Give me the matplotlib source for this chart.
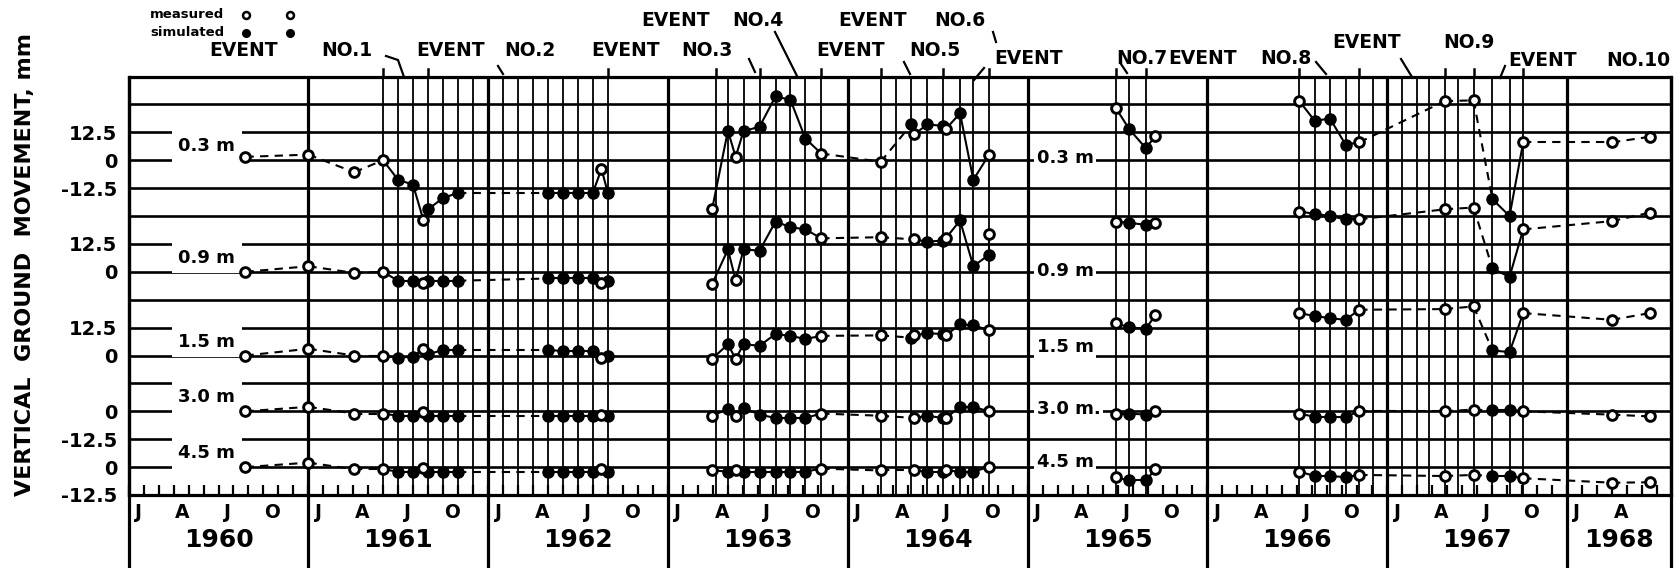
import matplotlib
matplotlib.use("Agg")
import matplotlib.pyplot as plt
import numpy as np
from matplotlib.lines import Line2D

plt.rcParams['font.family'] = ['DejaVu Sans']
plt.rcParams['font.weight'] = 'bold'

nan = np.nan

# depth series, each drawn around its own zero on a shared mm axis
depth_names = ['0.3 m', '0.9 m', '1.5 m', '3.0 m', '4.5 m']
names_1965 = ['0.3 m', '0.9 m', '1.5 m', '3.0 m.', '4.5 m']
baselines = [150.0, 100.0, 62.5, 37.5, 12.5]
tick_rel = [[12.5, 0, -12.5], [12.5, 0], [12.5, 0], [0, -12.5], [0, -12.5]]

# measured (open circles)
meas_dates = [1960.65, 1961.0, 1961.255, 1961.415, 1961.64, 1962.63,
              1963.245, 1963.376, 1963.852,
              1964.183, 1964.37, 1964.545, 1964.783,
              1965.489, 1965.71,
              1966.511, 1966.844, 1967.32, 1967.48, 1967.756,
              1968.25, 1968.46]
meas_03 = [1.5, 2.5, -5.4, 0.0, -27.0, -3.9, -22.0, 1.5, 3.0, -0.7, 11.7, 14.0, 2.2,
           23.6, 10.7, 26.5, 8.0, 26.5, 26.8, 8.0, 8.0, 10.5]
meas_09 = [0.0, 2.5, -0.5, 0.0, -5.0, -5.0, -5.5, -3.7, 15.0, 15.5, 14.5, 15.0, 17.0,
           22.5, 22.0, 27.0, 23.5, 28.0, 28.8, 19.0, 22.7, 26.5]
meas_15 = [0.0, 3.0, 0.0, 0.0, 3.0, -1.0, -1.5, -1.5, 8.8, 9.0, 9.0, 9.0, 11.4,
           14.5, 18.0, 19.0, 20.5, 20.8, 22.0, 19.0, 16.0, 19.0]
meas_30 = [0.0, 2.0, -1.0, -1.0, -0.5, -1.5, -2.0, -2.0, -1.0, -2.0, -3.0, -3.0, 0.0,
           -1.0, 0.0, -1.0, 0.0, 0.0, 0.8, 0.0, -1.5, -2.3]
meas_45 = [0.0, 2.0, -1.0, -1.0, -0.5, -1.0, -1.5, -1.5, -0.7, -1.5, -1.5, -1.5, 0.0,
           -4.5, -1.0, -2.0, -3.5, -4.0, -3.5, -5.0, -7.0, -6.8]

# simulated (filled circles)
sim_dates = [1961.498, 1961.582, 1961.665, 1961.748, 1961.832,
             1962.332, 1962.415, 1962.498, 1962.582, 1962.665,
             1963.333, 1963.42, 1963.509, 1963.598, 1963.681, 1963.764,
             1964.353, 1964.443, 1964.528, 1964.624, 1964.698, 1964.783,
             1965.564, 1965.657,
             1966.596, 1966.682, 1966.768,
             1967.585, 1967.68]
sim_03 = [-8.7, -11.0, -22.0, -17.0, -14.6,
          -14.6, -14.6, -14.6, -14.6, -14.6,
          13.2, 13.0, 15.0, 28.6, 27.0, 9.7,
          16.0, 16.0, 15.4, 21.0, -8.8, nan,
          14.0, 5.4,
          17.7, 18.6, 7.0,
          -17.5, -25.0]
sim_09 = [-4.0, -4.0, -4.0, -4.0, -4.0,
          -3.0, -3.0, -3.0, -3.0, -4.0,
          10.0, 10.0, 9.5, 22.5, 20.0, 19.0,
          nan, 13.5, 14.0, 23.0, 2.5, 7.5,
          22.0, 21.0,
          26.0, 25.0, 23.5,
          1.5, -2.3]
sim_15 = [-1.0, -0.5, 0.5, 2.5, 2.5,
          2.5, 2.0, 2.0, 2.0, 0.0,
          5.0, 5.0, 4.4, 9.6, 8.8, 7.4,
          8.0, 10.0, 9.6, 14.0, 13.5, nan,
          12.6, 12.0,
          17.7, 16.7, 16.0,
          2.3, 1.5]
sim_30 = [-2.0, -2.0, -2.0, -2.0, -2.0,
          -2.0, -2.0, -2.0, -2.0, -2.0,
          1.0, 1.5, -1.5, -3.0, -3.0, -3.0,
          nan, -2.0, -3.0, 2.0, 2.0, nan,
          -1.0, -1.5,
          -2.5, -2.5, -2.5,
          0.8, 0.8]
sim_45 = [-2.0, -2.0, -2.0, -2.0, -2.0,
          -2.0, -2.0, -2.0, -2.0, -2.0,
          -2.0, -2.0, -2.0, -2.0, -2.0, -2.0,
          nan, -2.0, -2.0, -2.0, -2.0, nan,
          -6.0, -6.0,
          -4.0, -4.0, -4.5,
          -4.0, -4.0]

meas_all = [meas_03, meas_09, meas_15, meas_30, meas_45]
sim_all = [sim_03, sim_09, sim_15, sim_30, sim_45]

# survey dates drawn as vertical lines during the events
event_lines = [1961.415, 1961.498, 1961.582, 1961.665, 1961.748, 1961.832, 1961.915,
               1962.082, 1962.165, 1962.248, 1962.332, 1962.415, 1962.498, 1962.582, 1962.665,
               1963.267, 1963.333, 1963.42, 1963.509, 1963.598, 1963.681, 1963.764, 1963.852,
               1964.183, 1964.268, 1964.353, 1964.443, 1964.528, 1964.624, 1964.698, 1964.783,
               1965.489, 1965.564, 1965.657,
               1966.511, 1966.596, 1966.682, 1966.768, 1966.844, 1966.919,
               1967.081, 1967.167, 1967.233, 1967.319, 1967.395, 1967.48, 1967.585,
               1967.68, 1967.756]
event_marks = [1961.415, 1961.665, 1962.665, 1963.267, 1963.509, 1963.852,
               1964.183, 1964.528, 1964.783, 1965.489, 1965.657,
               1966.511, 1966.844, 1967.319, 1967.48, 1967.756]

years = [1960, 1961, 1962, 1963, 1964, 1965, 1966, 1967, 1968]
month_letters = ['J', 'A', 'J', 'O']
month_pos = [0.055, 0.30, 0.55, 0.80]
x_end = 1968.578

# event labels: number, x of "EVENT", x of number, y  (figure pixels)
event_nums = ['NO.1', 'NO.2', 'NO.3', 'NO.4', 'NO.5', 'NO.6', 'NO.7', 'NO.8', 'NO.9', 'NO.10']
event_x1 = [209, 416, 591, 641, 816, 838, 994, 1168, 1332, 1508]
event_x2 = [321, 504, 681, 732, 909, 934, 1116, 1260, 1443, 1606]
event_y = [51, 51, 51, 20, 51, 21, 59, 59, 43, 61]
pointers = [[(386, 56), (398, 60), (404, 77)], [(498, 66), (503, 74)], [(749, 59), (755, 72)],
            [(775, 32), (797, 76)], [(904, 62), (910, 74)], [(993, 32), (996, 42)],
            [(984, 68), (974, 80)], [(1121, 64), (1127, 73)], [(1316, 62), (1326, 74)],
            [(1401, 59), (1412, 77)], [(1505, 66), (1500, 78)]]

W, H = 1680, 568
fig = plt.figure(figsize=(16.8, 5.68), dpi=100)
ax = fig.add_axes([128.6 / W, 73 / H, (1671 - 128.6) / W, 418.5 / H])
ax.set_xlim(1960, x_end)
ax.set_ylim(0, 187.5)
xt = ax.get_xaxis_transform()

# horizontal grid
for k in range(16):
    ax.axhline(12.5 * k, color='k', lw=1.9, zorder=1)
# survey lines
ax.vlines(event_lines, 0, 187.5, color='k', lw=1.3, zorder=1)
# year boundaries running down through the date boxes
for yr in years[1:] + [1960, x_end]:
    ax.plot([yr, yr], [-0.2, 1], transform=xt, color='k', lw=2.3,
            clip_on=False, zorder=1, solid_capstyle='butt')
for d in event_marks:
    ax.plot([d, d], [1.0, 1.018], transform=xt, color='k', lw=1.8, clip_on=False)

for s in ax.spines.values():
    s.set_linewidth(2.3)

# left tick labels
ypos, ylab = [], []
for base, rel in zip(baselines, tick_rel):
    for r in rel:
        ypos.append(base + r)
        ylab.append('0' if r == 0 else ('12.5' if r > 0 else '-12.5'))
ax.set_yticks(ypos, ylab)
ax.tick_params(axis='y', length=0, pad=8, labelsize=14)

# monthly ticks on the bottom line
mticks = [y + m / 12 for y in years for m in range(12) if y + m / 12 < x_end - 0.02]
ax.set_xticks(mticks)
ax.tick_params(axis='x', direction='in', length=7, width=1.6, labelbottom=False)

for yr in years:
    for off, lab in zip(month_pos, month_letters):
        if yr + off < x_end - 0.03:
            ax.text(yr + off, -0.042, lab, transform=xt, ha='center', va='center',
                    fontsize=13.5, fontweight='bold')
    mid = (yr + min(yr + 1, x_end)) / 2
    ax.text(mid, -0.108, str(yr), transform=xt, ha='center', va='center',
            fontsize=18, fontweight='bold')

# depth labels with gaps in the grid
for base, name in zip(baselines, depth_names):
    ax.text(1960.593, base + 6.25, name, ha='right', va='center', fontsize=13,
            fontweight='bold', zorder=2,
            bbox=dict(boxstyle='square,pad=0.36', fc='white', ec='none'))
for base, name, off in zip(baselines, names_1965, [1.0, 0.5, 4.0, 1.0, 2.5]):
    ax.text(1965.05, base + off, name, ha='left', va='center', fontsize=13,
            fontweight='bold', zorder=2,
            bbox=dict(boxstyle='square,pad=0.12', fc='white', ec='none'))


def connect(dates, vals, base):
    pts = sorted((d, v) for d, v in zip(dates, vals) if not np.isnan(v))
    for (d0, v0), (d1, v1) in zip(pts[:-1], pts[1:]):
        gap = d1 - d0
        if gap <= 0.1:
            ls = '-'
        elif gap <= 0.55:
            ls = (0, (4, 3))
        else:
            continue
        ax.plot([d0, d1], [base + v0, base + v1], color='k', lw=1.5, ls=ls, zorder=3)


for base, mv, sv in zip(baselines, meas_all, sim_all):
    connect(meas_dates + sim_dates, mv + sv, base)
    ax.plot(sim_dates, base + np.array(sv), 'o', ms=8, color='k', zorder=4)
    ax.plot(meas_dates, base + np.array(mv), 'o', ms=7, mfc='white', mec='k',
            mew=2.1, zorder=5)

# y label
fig.text(25 / W, 1 - 265 / H, 'VERTICAL  GROUND  MOVEMENT, mm', rotation=90,
         ha='center', va='center', fontsize=16, fontweight='bold')

# legend
fig.text(150 / W, 1 - 15 / H, 'measured', fontsize=9.5, fontweight='bold', va='center')
fig.text(150 / W, 1 - 33 / H, 'simulated', fontsize=9.5, fontweight='bold', va='center')
for lx in (246, 290):
    fig.add_artist(Line2D([lx / W], [1 - 15 / H], marker='o', ms=5, mfc='white', mec='k',
                          mew=1.8, ls='none', transform=fig.transFigure))
    fig.add_artist(Line2D([lx / W], [1 - 33 / H], marker='o', ms=5.5, color='k',
                          ls='none', transform=fig.transFigure))

# event labels and pointers
for num, x1, x2, y in zip(event_nums, event_x1, event_x2, event_y):
    fig.text(x1 / W, 1 - y / H, 'EVENT', fontsize=13.5, fontweight='bold', va='center')
    fig.text(x2 / W, 1 - y / H, num, fontsize=13.5, fontweight='bold', va='center')
for p in pointers:
    fig.add_artist(Line2D([q[0] / W for q in p], [1 - q[1] / H for q in p], color='k',
                          lw=1.6, transform=fig.transFigure))

fig.savefig('out.png', dpi=100)
